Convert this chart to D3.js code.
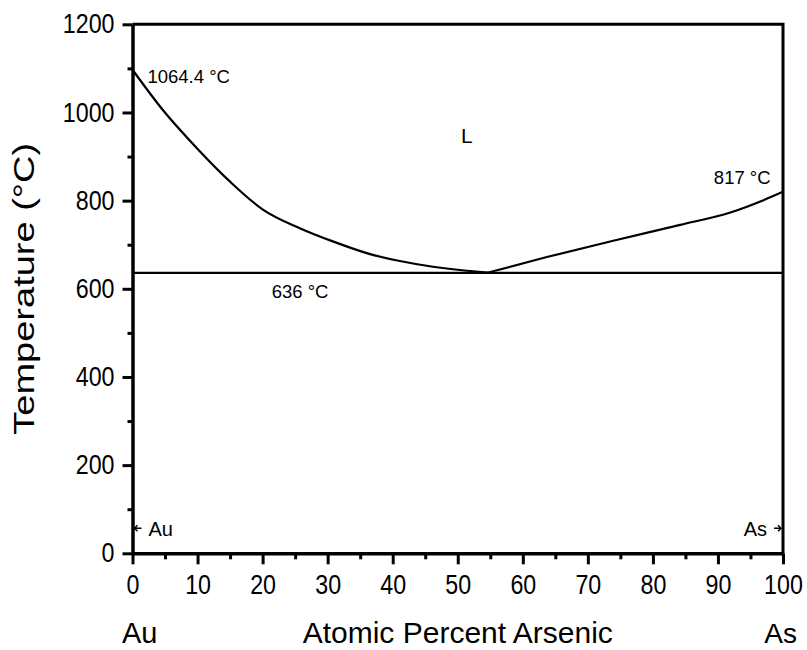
<!DOCTYPE html>
<html>
<head>
<meta charset="utf-8">
<script src="https://cdn.jsdelivr.net/npm/d3@7"></script>
<style>
  html, body { margin: 0; padding: 0; background: #ffffff; }
  svg { display: block; font-family: "Liberation Sans", Arial, sans-serif; }
</style>
</head>
<body>
<script>
// liquidus (atomic % As, temperature in C)
const liquidusAu = [[0, 1097], [4.7, 1005], [9.9, 919], [15, 843], [20.1, 779], [25.8, 737],
  [30.9, 707], [36, 681], [41.1, 663], [46.2, 650], [51.4, 641], [54.7, 637]]
const liquidusAs = [[54.7, 637], [63.7, 672], [73.9, 709], [84.2, 745], [91.9, 773],
  [97, 801], [100, 820]]
const eutectic = [[0, 636], [100, 636]]

const xTicks = [0, 10, 20, 30, 40, 50, 60, 70, 80, 90, 100]
const yTicks = [0, 200, 400, 600, 800, 1000, 1200]
const xMinor = d3.range(5, 100, 10)
const yMinor = d3.range(100, 1200, 200)

// annotations: [text, at. %, temperature, anchor]
const notes = [
  ["1064.4 °C", 2.3, 1067, "start"],
  ["L", 50.5, 930, "start"],
  ["817 °C", 98.1, 837, "end"],
  ["636 °C", 21.4, 580, "start"]
]

const W = 807, H = 650
const LEFT = 132.5, RIGHT = 783, TOP = 24.3, BOTTOM = 553.3

const x = d3.scaleLinear().domain([0, 100]).range([LEFT, RIGHT])
const y = d3.scaleLinear().domain([0, 1200]).range([BOTTOM, TOP])

const svg = d3.select("body").append("svg")
  .attr("width", W)
  .attr("height", H)

let condense = function (sel, k) {
  sel.each(function () {
    const len = this.getComputedTextLength()
    d3.select(this).attr("textLength", len * k).attr("lengthAdjust", "spacingAndGlyphs")
  })
}

// minor ticks first, majors over them
svg.append("g")
  .attr("transform", `translate(0, ${BOTTOM})`)
  .call(d3.axisBottom(x).tickValues(xMinor).tickSize(6).tickFormat(""))
  .call(g => g.select(".domain").remove())
  .call(g => g.selectAll("line").attr("stroke-width", 3))

svg.append("g")
  .attr("transform", `translate(${LEFT}, 0)`)
  .call(d3.axisLeft(y).tickValues(yMinor).tickSize(5).tickFormat(""))
  .call(g => g.select(".domain").remove())
  .call(g => g.selectAll("line").attr("stroke-width", 3))

const xAxis = svg.append("g")
  .attr("transform", `translate(0, ${BOTTOM})`)
  .call(d3.axisBottom(x).tickValues(xTicks).tickFormat(d3.format("d"))
    .tickSize(11).tickPadding(11).tickSizeOuter(0))
xAxis.select(".domain").attr("stroke-width", 3.5)
xAxis.selectAll("line").attr("stroke-width", 3)
xAxis.selectAll("text").attr("font-size", 27).attr("fill", "#000")
  .call(condense, 0.86)

const yAxis = svg.append("g")
  .attr("transform", `translate(${LEFT}, 0)`)
  .call(d3.axisLeft(y).tickValues(yTicks).tickFormat(d3.format("d"))
    .tickSize(10).tickPadding(8).tickSizeOuter(0))
yAxis.select(".domain").attr("stroke-width", 3.5)
yAxis.selectAll("line").attr("stroke-width", 3)
yAxis.selectAll("text").attr("font-size", 27).attr("fill", "#000")
  .call(condense, 0.86)

// frame on top and right
svg.append("path")
  .attr("fill", "none")
  .attr("stroke", "#000")
  .attr("stroke-width", 3)
  .attr("d", `M${LEFT},${TOP}H${RIGHT}V${BOTTOM}`)

const line = d3.line()
  .x(d => x(d[0]))
  .y(d => y(d[1]))

svg.append("path")
  .attr("fill", "none")
  .attr("stroke", "#000")
  .attr("stroke-width", 2.3)
  .attr("d", line(eutectic))

const curve = d3.line()
  .x(d => x(d[0]))
  .y(d => y(d[1]))
  .curve(d3.curveMonotoneX)

svg.selectAll("path.liq")
  .data([liquidusAu, liquidusAs])
  .join("path")
  .attr("class", "liq")
  .attr("fill", "none")
  .attr("stroke", "#000")
  .attr("stroke-width", 2.2)
  .attr("stroke-linejoin", "round")
  .attr("d", curve)

svg.selectAll("text.note")
  .data(notes)
  .join("text")
  .attr("class", "note")
  .attr("x", d => x(d[1]))
  .attr("y", d => y(d[2]))
  .attr("text-anchor", d => d[3])
  .attr("font-size", d => d[0] === "L" ? 21 : 18.5)
  .text(d => d[0])

// pure element markers at the axes
const ends = [["Au", 0, 57, 1], ["As", 100, 57, -1]]
ends.forEach(function (e) {
  const px = x(e[1]), py = y(e[2]), s = e[3]
  svg.append("path")
    .attr("fill", "none")
    .attr("stroke", "#000")
    .attr("stroke-width", 1.5)
    .attr("d", `M${px + s * 9},${py}H${px + s * 2}M${px + s * 5},${py - 3}L${px + s * 2},${py}L${px + s * 5},${py + 3}`)
  svg.append("text")
    .attr("x", px + s * 16)
    .attr("y", py + 8)
    .attr("text-anchor", s > 0 ? "start" : "end")
    .attr("font-size", 20)
    .text(e[0])
})

// axis titles
svg.append("text")
  .attr("x", (LEFT + RIGHT) / 2)
  .attr("y", 643)
  .attr("text-anchor", "middle")
  .attr("font-size", 30)
  .text("Atomic Percent Arsenic")

svg.append("text")
  .attr("x", 122)
  .attr("y", 643)
  .attr("font-size", 29)
  .text("Au")

svg.append("text")
  .attr("x", 797)
  .attr("y", 643)
  .attr("text-anchor", "end")
  .attr("font-size", 28)
  .text("As")

svg.append("text")
  .attr("transform", `translate(34, ${(TOP + BOTTOM) / 2}) rotate(-90) scale(1, 0.8)`)
  .attr("text-anchor", "middle")
  .attr("font-size", 38)
  .text("Temperature (°C)")
</script>
</body>
</html>
